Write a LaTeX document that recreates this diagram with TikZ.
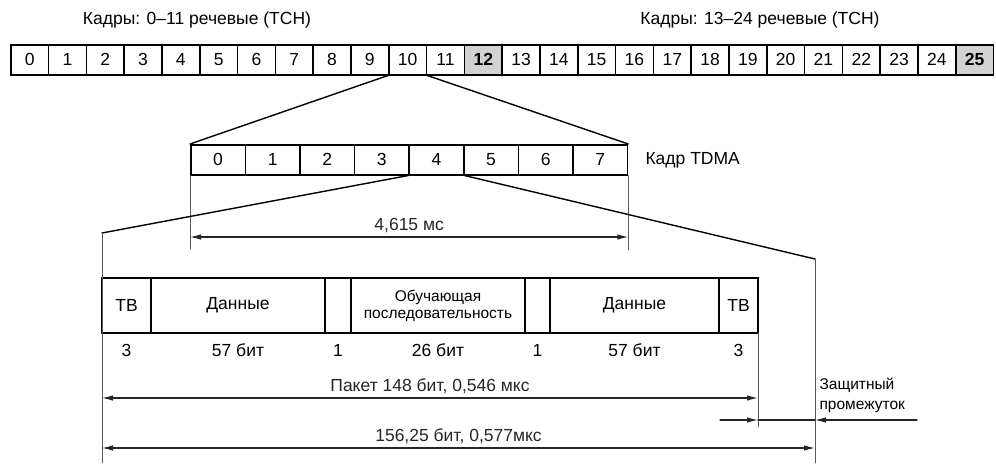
\documentclass[tikz,border=0pt]{standalone}
\usepackage{fontspec}
\setmainfont{Liberation Sans}
\usetikzlibrary{arrows.meta}

\begin{document}
\begin{tikzpicture}[x=1pt,y=-1pt,>={Latex[length=11pt,width=5.5pt]},line cap=round,
  font=\fontsize{17.5}{20}\selectfont,
  cell/.style={draw,line width=1.5pt,anchor=north west,inner sep=0pt,minimum height=30pt},
  hot/.style={cell,fill=gray!35,font=\fontsize{17.5}{20}\selectfont\bfseries},
  part/.style={draw,line width=1.5pt,anchor=north west,inner sep=0pt,outer sep=0pt,minimum height=55pt},
  slant/.style={line width=1.4pt},
  ext/.style={gray!70!black,line width=0.8pt},
  dim/.style={<->,black!85,line width=1.1pt}]
\useasboundingbox (0,0) rectangle (996,466);

% multiframe of 26 frames
\node (capA) at (197,20) {Кадры: 0–11 речевые (TCH)};
\node (capB) at (760,20) {Кадры: 13–24 речевые (TCH)};
\foreach \i in {0,...,11}
  \node[cell,minimum width=37.8pt] (f\i) at ({10+37.8*\i},44) {\i};
\foreach \i in {13,...,24}
  \node[cell,minimum width=37.8pt] (f\i) at ({10+37.8*\i},44) {\i};
\foreach \i in {12,25}
  \node[hot,minimum width=37.8pt] (f\i) at ({10+37.8*\i},44) {\i};

% TDMA frame
\foreach \i in {0,...,7}
  \node[cell,minimum width=54.6pt] (t\i) at ({190+54.6*\i},144) {\i};
\node[anchor=west] (tdma) at (642,160) {Кадр TDMA};
\draw[slant] (f10.south west) -- (t0.north west);
\draw[slant] (f10.south east) -- (t7.north east);
\draw[ext] (t0.south west) -- (t0.south west |- 0,249);
\draw[ext] (t7.south east) -- (t7.south east |- 0,250);
\draw[dim] (t0.south west |- 0,237) -- node[above] (tms) {4,615 мс} (t7.south east |- 0,237);

% burst
\node[part,minimum width=49pt] (tb1) at (102,278) {ТВ};
\node[part,minimum width=174pt] (d1) at (tb1.north east) {Данные};
\node[part,minimum width=26pt] (g1) at (d1.north east) {};
\node[part,minimum width=174pt,align=center,font=\fontsize{15.5}{17}\selectfont] (tr) at (g1.north east) {Обучающая\\последовательность};
\node[part,minimum width=25pt] (g2) at (tr.north east) {};
\node[part,minimum width=169pt] (d2) at (g2.north east) {Данные};
\node[part,minimum width=39pt] (tb2) at (d2.north east) {ТВ};
\foreach \n/\t in {tb1/3,d1/57 бит,g1/1,tr/26 бит,g2/1,d2/57 бит,tb2/3}
  \node (b\n) at (\n.south |- 0,350) {\t};

\coordinate (bl) at (102,233);
\coordinate (br) at (815,259);
\draw[slant] (t4.south west) -- (bl);
\draw[slant] (t4.south east) -- (br);
\draw[ext] (bl) -- (bl |- 0,463);
\draw[ext] (br) -- (br |- 0,463);
\draw[ext] (tb2.south east) -- (tb2.south east |- 0,427);

% durations
\draw[dim] (bl |- 0,398) -- node[above] (pk) {Пакет 148 бит, 0,546 мкс} (tb2.south east |- 0,398);
\coordinate (ga) at (720,420);
\coordinate (gb) at (917,420);
\draw[->,black!85,line width=1.1pt] (ga) -- (tb2.south east |- ga);
\draw[black!85,line width=1.1pt] (tb2.south east |- ga) -- (br |- ga);
\draw[->,black!85,line width=1.1pt] (gb) -- (br |- gb);
\node[anchor=north west,align=left,font=\fontsize{15.5}{20}\selectfont] (gap) at (816,374) {Защитный\\промежуток};
\draw[dim] (bl |- 0,448) -- node[above] (tot) {156,25 бит, 0,577мкс} (br |- 0,448);
\end{tikzpicture}
\end{document}
